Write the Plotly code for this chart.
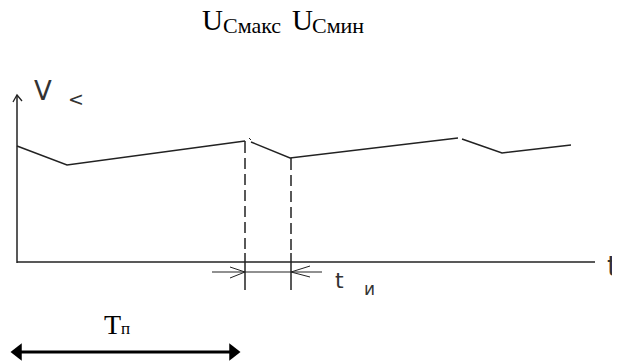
import plotly.graph_objects as go

# Waveform of capacitor voltage (time units, voltage units); None = pen gap
wave_t = [0, 50, 228, None, 234, 273, 441, None, 445, 485, 554]
wave_v = [116, 97, 121, None, 120, 104, 124, None, 123, 109, 117]

# Dashed markers for the pulse interval
pulse_t = [228, 274]
pulse_top = [121, 104]
pulse_bottom = [-28, -28]

# Axes extents
t_axis = [0, 578]
v_axis = [0, 167]

# Pulse duration dimension line
dim_t = [195, 305]
dim_v = -10

# Period arrow
period_t = [1, 216]
period_v = -90

# Text pieces
title_main = ["U", "U"]
title_sub = ["Cмакс", "Cмин"]
period_label = "T<span style='font-size:17px'>п</span>"

fig = go.Figure()
ink = "#222222"

def seg(xs, ys, w=1.5, color=ink, dash=None):
    fig.add_trace(go.Scatter(x=xs, y=ys, mode="lines", connectgaps=False,
                             line=dict(color=color, width=w, dash=dash), hoverinfo="skip"))

# axes
seg(t_axis, [0, 0])
seg([0, 0], [-1, v_axis[1]])
seg([-4, 0, 5], [160, v_axis[1], 161], w=1.3)

# waveform
seg(wave_t, wave_v)
seg([232, 234], [124, 122], w=1)

# pulse markers: short solid start, dashed body, solid through the axis
for t, top, bot in zip(pulse_t, pulse_top, pulse_bottom):
    seg([t, t], [top, top - 12])
    seg([t, t], [top - 17, 12], dash="11px,5px")
    seg([t, t], [9, bot])

# dimension line under axis
seg(dim_t, [dim_v, dim_v], w=1.2)
seg([213, pulse_t[0], 213], [dim_v + 5, dim_v, dim_v - 6], w=1)
seg([293, pulse_t[1], 293], [dim_v + 6, dim_v, dim_v - 5], w=1)

# period arrow
fig.add_trace(go.Scatter(x=period_t, y=[period_v, period_v], mode="lines+markers",
                         line=dict(color="black", width=3),
                         marker=dict(symbol=["triangle-left", "triangle-right"], size=15, color="black"),
                         hoverinfo="skip"))

def A(px, py, text, size, family="DejaVu Sans", color="#333", xanchor="left", yanchor="middle"):
    return dict(x=px - 17, y=262 - py, text=text, xref="x", yref="y", showarrow=False,
                xanchor=xanchor, yanchor=yanchor,
                font=dict(family=family, size=size, color=color))

serif = "Liberation Serif"
ann = [
    A(200, 20, title_main[0], 29, family=serif, color="black"),
    A(221, 25, title_sub[0], 22, family=serif, color="black"),
    A(290, 20, title_main[1], 29, family=serif, color="black"),
    A(310, 25, title_sub[1], 22, family=serif, color="black"),
    A(32, 91, "V", 26),
    A(66, 99, "<", 19),
    A(605, 266, "t", 28),
    A(333, 280, "t", 22),
    A(362, 289, "и", 17),
    A(102, 324, period_label, 28, family=serif, color="black"),
]

fig.update_layout(
    width=612, height=356, margin=dict(l=0, r=0, t=0, b=0),
    paper_bgcolor="white", plot_bgcolor="white", showlegend=False,
    xaxis=dict(range=[-9, 603], visible=False, fixedrange=True),
    yaxis=dict(range=[-102, 254], visible=False, fixedrange=True),
    annotations=ann,
)
fig.write_html("out.html")
